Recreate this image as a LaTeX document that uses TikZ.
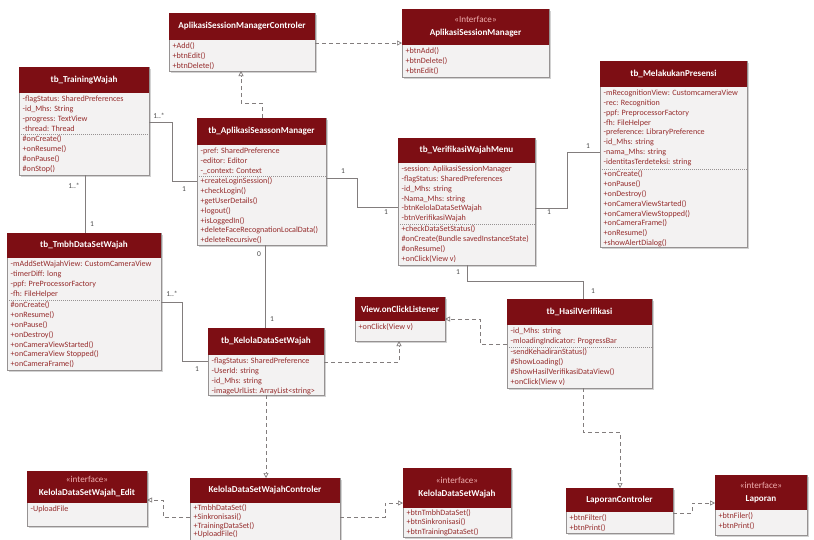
\documentclass[tikz,border=0pt]{standalone}
\usepackage{fontspec}
\setmainfont{Carlito}
\usetikzlibrary{arrows.meta,calc,shadows}
\definecolor{hdrred}{RGB}{125,14,20}
\definecolor{bodygray}{RGB}{243,242,242}
\definecolor{boxgray}{RGB}{150,146,146}
\definecolor{txtred}{RGB}{150,45,45}
\definecolor{stereo}{RGB}{240,175,175}
\definecolor{linegray}{RGB}{130,125,125}
\newcommand\stlt{\textless\textless}
\newcommand\stgt{\textgreater\textgreater}
\tikzset{
  cbox/.style={draw=boxgray, fill=bodygray, inner sep=0pt, outer sep=0pt, line width=0.6pt,
    drop shadow={shadow xshift=1.6pt, shadow yshift=-1.6pt, opacity=0.35}},
  htext/.style={text=white, font=\bfseries\fontsize{9.1}{13}\selectfont, align=center, inner sep=0pt},
  ctext/.style={text=txtred, font=\fontsize{8.1}{9.8}\selectfont, align=left, inner xsep=3.5pt, inner ysep=2.8pt, anchor=north west},
  sepl/.style={draw=boxgray, dash pattern=on 1.2pt off 0.8pt, line width=0.6pt},
  assoc/.style={draw=linegray, line width=0.6pt},
  realize/.style={draw=linegray, line width=0.7pt, dash pattern=on 4pt off 3pt, -{Triangle[open, length=5pt, width=5pt]}},
  mult/.style={text=black!70, font=\fontsize{7.5}{8}\selectfont, inner sep=0pt}
}
\newcommand\ubox[6]{%
  \node[cbox, minimum width=#4pt, minimum height=#5pt, anchor=north west] (#1) at (#2,#3) {};
  \fill[hdrred] (#1.north west) rectangle ($(#1.north east)+(0,#6)$);
}
\newcommand\uhead[3]{\node[htext] (#1-t) at ($(#1.north)+(0,#2/2)$) {#3};}
\newcommand\utext[4]{\node[ctext] (#1-#2) at ($(#1.north west)+(0,#3)$) {#4};}
\newcommand\usep[2]{\draw[sepl] ($(#1.north west)+(0,#2)$) -- ($(#1.north east)+(0,#2)$);}
\begin{document}
\begin{tikzpicture}[x=1pt,y=-1pt]
\fill[white] (0,0) rectangle (814,539);
\useasboundingbox (0,0) rectangle (814,539);

% AplikasiSessionManagerControler
\ubox{asmc}{169}{13}{146}{58}{27}
\uhead{asmc}{27}{AplikasiSessionManagerControler}
\utext{asmc}{m}{27}{+Add()\\+btnEdit()\\+btnDelete()}

% <<Interface>> AplikasiSessionManager
\ubox{asm}{402}{9}{147}{68}{36}
\uhead{asm}{36}{{\mdseries\color{stereo}\stlt Interface\stgt}\\AplikasiSessionManager}
\utext{asm}{m}{36}{+btnAdd()\\+btnDelete()\\+btnEdit()}

% tb_TrainingWajah
\ubox{tw}{19}{67}{130}{108}{26}
\uhead{tw}{26}{tb\_TrainingWajah}
\utext{tw}{a}{26}{-flagStatus: SharedPreferences\\-id\_Mhs: String\\-progress: TextView\\-thread: Thread}
\usep{tw}{67}
\utext{tw}{m}{66}{\#onCreate()\\+onResume()\\\#onPause()\\\#onStop()}

% tb_AplikasiSeassonManager
\ubox{tasm}{197}{118}{129}{127}{27}
\uhead{tasm}{27}{tb\_AplikasiSeassonManager}
\utext{tasm}{a}{27}{-pref: SharedPreference\\-editor: Editor\\-\_context: Context}
\usep{tasm}{58}
\utext{tasm}{m}{57}{+createLoginSession()\\+checkLogin()\\+getUserDetails()\\+logout()\\+isLoggedIn()\\+deleteFaceRecognationLocalData()\\+deleteRecursive()}

% tb_VerifikasiWajahMenu
\ubox{vwm}{398}{138}{137}{127}{25}
\uhead{vwm}{25}{tb\_VerifikasiWajahMenu}
\utext{vwm}{a}{25}{-session: AplikasiSessionManager\\-flagStatus: SharedPreferences\\-id\_Mhs: string\\-Nama\_Mhs: string\\-btnKelolaDataSetWajah\\-btnVerifikasiWajah}
\usep{vwm}{86}
\utext{vwm}{m}{85}{+checkDataSetStatus()\\\#onCreate(Bundle savedInstanceState)\\\#onResume()\\+onClick(View v)}

% tb_MelakukanPresensi
\ubox{mp}{600}{61}{147}{186}{26}
\uhead{mp}{26}{tb\_MelakukanPresensi}
\utext{mp}{a}{26}{-mRecognitionView: CustomcameraView\\-rec: Recognition\\-ppf: PreprocessorFactory\\-fh: FileHelper\\-preference: LibraryPreference\\-id\_Mhs: string\\-nama\_Mhs: string\\-identitasTerdeteksi: string}
\usep{mp}{108}
\utext{mp}{m}{107}{+onCreate()\\+onPause()\\+onDestroy()\\+onCameraViewStarted()\\+onCameraViewStopped()\\+onCameraFrame()\\+onResume()\\+showAlertDialog()}

% tb_TmbhDataSetWajah
\ubox{tds}{7}{233}{154}{137}{25}
\uhead{tds}{25}{tb\_TmbhDataSetWajah}
\utext{tds}{a}{25}{-mAddSetWajahView: CustomCameraView\\-timerDiff: long\\-ppf: PreProcessorFactory\\-fh: FileHelper}
\usep{tds}{67}
\utext{tds}{m}{66}{\#onCreate()\\+onResume()\\+onPause()\\+onDestroy()\\+onCameraViewStarted()\\+onCameraView Stopped()\\+onCameraFrame()}

% tb_KelolaDataSetWajah
\ubox{kdsw}{208}{328}{116}{67}{27}
\uhead{kdsw}{27}{tb\_KelolaDataSetWajah}
\utext{kdsw}{a}{27}{-flagStatus: SharedPreference\\-UserId: string\\-id\_Mhs: string\\-imageUrlList: ArrayList<string>}

% View.onClickListener
\ubox{vocl}{355}{297}{90}{44}{24}
\uhead{vocl}{24}{View.onClickListener}
\utext{vocl}{m}{24}{+onClick(View v)}

% tb_HasilVerifikasi
\ubox{hv}{507}{299}{145}{89}{26}
\uhead{hv}{26}{tb\_HasilVerifikasi}
\utext{hv}{a}{26}{-id\_Mhs: string\\-mloadingIndicator: ProgressBar}
\usep{hv}{48}
\utext{hv}{m}{47}{-sendKehadiranStatus()\\\#ShowLoading()\\\#ShowHasilVerifikasiDataView()\\+onClick(View v)}

% <<interface>> KelolaDataSetWajah_Edit
\ubox{kdswe}{27}{471}{120}{55}{32}
\uhead{kdswe}{32}{{\mdseries\color{stereo}\stlt interface\stgt}\\KelolaDataSetWajah\_Edit}
\utext{kdswe}{a}{32}{-UploadFile}

% KelolaDataSetWajahControler
\ubox{kdswc}{190}{478}{150}{64}{25}
\uhead{kdswc}{25}{KelolaDataSetWajahControler}
\node[ctext, inner ysep=1.5pt, font=\fontsize{8.1}{8.7}\selectfont] (kdswc-m) at ($(kdswc.north west)+(0,25)$) {+TmbhDataSet()\\+Sinkronisasi()\\+TrainingDataSet()\\+UploadFile()};

% <<interface>> KelolaDataSetWajah
\ubox{kdi}{403}{468}{108}{69}{40}
\uhead{kdi}{40}{{\mdseries\color{stereo}\stlt interface\stgt}\\KelolaDataSetWajah}
\node[ctext, inner ysep=1.5pt, font=\fontsize{8.1}{9.2}\selectfont] (kdi-m) at ($(kdi.north west)+(0,40)$) {+btnTmbhDataSet()\\+btnSinkronisasi()\\+btnTrainingDataSet()};

% LaporanControler
\ubox{lc}{566}{488}{107}{45}{24}
\uhead{lc}{24}{LaporanControler}
\utext{lc}{m}{24}{+btnFilter()\\+btnPrint()}

% <<interface>> Laporan
\ubox{lap}{715}{475}{92}{60}{35}
\uhead{lap}{35}{{\mdseries\color{stereo}\stlt interface\stgt}\\Laporan}
\utext{lap}{m}{35}{+btnFiler()\\+btnPrint()}

% ---------- associations ----------
\draw[assoc] ($(tw.north east)+(0,55)$) -- ++(23,0) |- ($(tasm.north west)+(0,63)$);
\node[mult] (m1) at ($(tw.north east)+(10,49)$) {1..*};
\node[mult] (m2) at ($(tasm.north west)+(-13,71)$) {1};

\draw[assoc] ($(tw.south west)+(66,0)$) -- ($(tds.north west)+(78,0)$);
\node[mult] (m3) at ($(tw.south west)+(55,11)$) {1..*};
\node[mult] (m4) at ($(tds.north west)+(85,-9)$) {1};

\draw[assoc] ($(tasm.north east)+(0,60)$) -- ++(31,0) |- ($(vwm.north west)+(0,69)$);
\node[mult] (m5) at ($(tasm.north east)+(17,53)$) {1};
\node[mult] (m6) at ($(vwm.north west)+(-12,74)$) {1};

\draw[assoc] ($(vwm.north east)+(0,70)$) -- ++(32,0) |- ($(mp.north west)+(0,91)$);
\node[mult] (m7) at ($(vwm.north east)+(14,74)$) {1};
\node[mult] (m8) at ($(mp.north west)+(-12,85)$) {1};

\draw[assoc] ($(vwm.south west)+(69,0)$) -- ++(0,16) -| ($(hv.north west)+(76,0)$);
\node[mult] (m9) at ($(vwm.south west)+(60,7)$) {1};
\node[mult] (m10) at ($(hv.north west)+(86,-8)$) {1};

\draw[assoc] ($(tasm.south west)+(68,0)$) -- ($(kdsw.north west)+(57,0)$);
\node[mult] (m11) at ($(tasm.south west)+(62,9)$) {0};
\node[mult] (m12) at ($(kdsw.north west)+(64,-9)$) {1};

\draw[assoc] ($(tds.north east)+(0,69)$) -- ++(21,0) |- ($(kdsw.north west)+(0,33)$);
\node[mult] (m13) at ($(tds.north east)+(11,61)$) {1..*};
\node[mult] (m14) at ($(kdsw.north west)+(-11,41)$) {1};

% ---------- realizations ----------
\draw[realize] ($(tasm.north west)+(65,0)$) -- ++(0,-15) -| ($(asmc.south west)+(72,0)$);
\draw[realize] ($(asmc.north east)+(0,30)$) -- ($(asm.north west)+(0,34)$);
\draw[realize] ($(kdsw.north east)+(0,34)$) -| ($(vocl.south west)+(44,0)$);
\draw[realize] ($(hv.north west)+(0,45)$) -- ++(-27,0) |- ($(vocl.north east)+(0,22)$);
\draw[realize] ($(kdsw.south west)+(58,0)$) -- ($(kdswc.north west)+(76,0)$);
\draw[realize] ($(kdswc.north west)+(0,39)$) -- ++(-27,0) |- ($(kdswe.north east)+(0,29)$);
\draw[realize] ($(kdswc.north east)+(0,39)$) -- ++(45,0) |- ($(kdi.north west)+(0,35)$);
\draw[realize] ($(hv.south west)+(76,0)$) -- ++(0,44) -| ($(lc.north west)+(54,0)$);
\draw[realize] ($(lc.north east)+(0,25)$) -- ++(19,0) |- ($(lap.north west)+(0,28)$);
\end{tikzpicture}
\end{document}
